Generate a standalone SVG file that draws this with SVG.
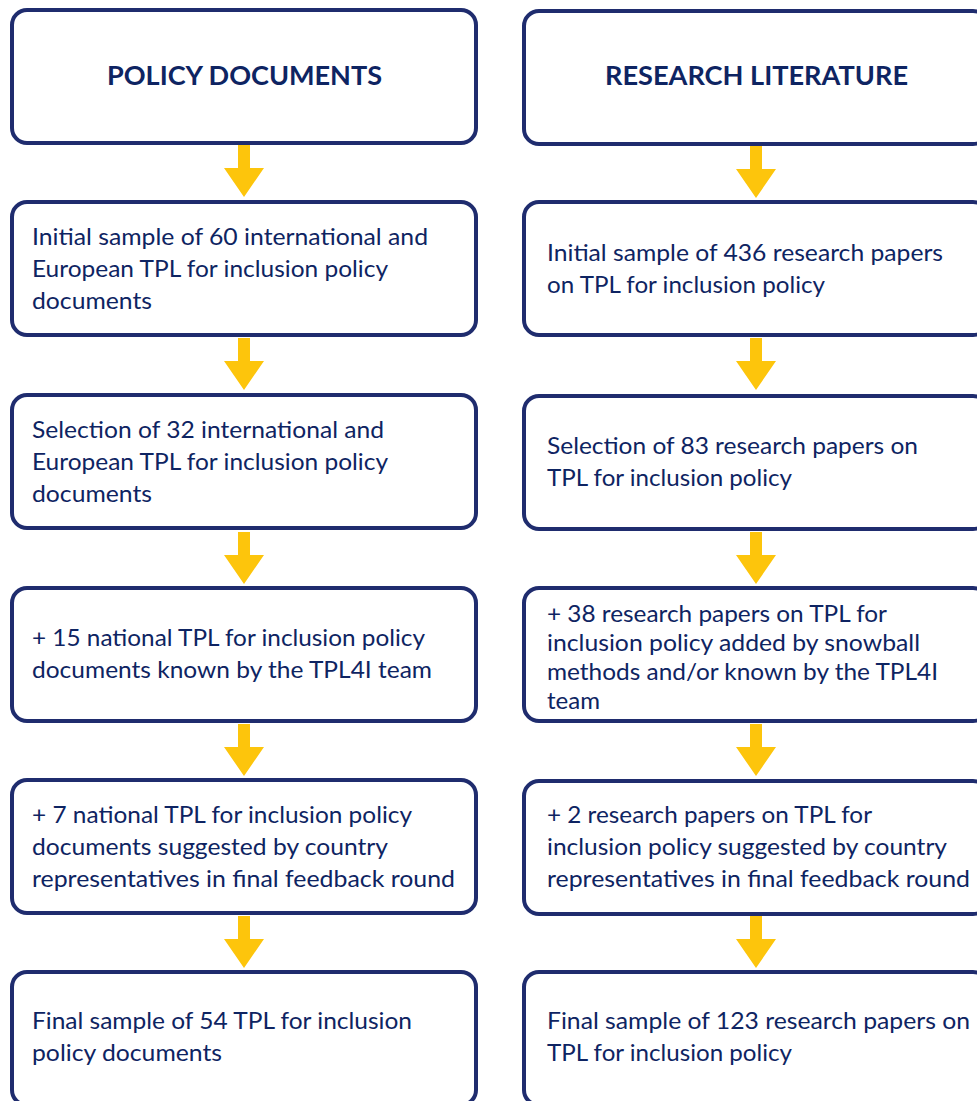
<svg xmlns="http://www.w3.org/2000/svg" xmlns:xlink="http://www.w3.org/1999/xlink" width="977" height="1101" viewBox="0 0 977 1101">
  <style>
    .box { fill: #ffffff; stroke: #1F2C6E; stroke-width: 4; }
    .t { font-family: Lato, "Open Sans", "Liberation Sans", sans-serif; font-size: 24px; fill: #0E2462; }
    .h { font-family: Lato, "Open Sans", "Liberation Sans", sans-serif; font-size: 26px; font-weight: bold; fill: #0E2462; }
    .arrow { fill: #FDC50C; }
  </style>
  <defs>
    <path id="arr" d="M -6 0 H 6 V 23 H 20 L 0 52 L -20 23 H -6 Z"/>
  </defs>
  <rect width="977" height="1101" fill="#ffffff"/>

  <g id="connectors">
    <use xlink:href="#arr" href="#arr" class="arrow" transform="translate(244,145)"/>
    <use xlink:href="#arr" href="#arr" class="arrow" transform="translate(244,338)"/>
    <use xlink:href="#arr" href="#arr" class="arrow" transform="translate(244,532)"/>
    <use xlink:href="#arr" href="#arr" class="arrow" transform="translate(244,724)"/>
    <use xlink:href="#arr" href="#arr" class="arrow" transform="translate(244,916)"/>
    <use xlink:href="#arr" href="#arr" class="arrow" transform="translate(756,146)"/>
    <use xlink:href="#arr" href="#arr" class="arrow" transform="translate(756,338)"/>
    <use xlink:href="#arr" href="#arr" class="arrow" transform="translate(756,532)"/>
    <use xlink:href="#arr" href="#arr" class="arrow" transform="translate(756,724)"/>
    <use xlink:href="#arr" href="#arr" class="arrow" transform="translate(756,916)"/>
  </g>

  <!-- Left column -->
  <g id="policy-documents">
    <rect class="box" x="12" y="10" width="464" height="133" rx="15"/>
    <text class="h" x="107" y="85" textLength="275" lengthAdjust="spacingAndGlyphs">POLICY DOCUMENTS</text>
  </g>
  <g id="policy-initial">
    <rect class="box" x="12" y="202" width="464" height="133" rx="15"/>
    <text class="t" x="32" y="245" textLength="396" lengthAdjust="spacingAndGlyphs">Initial sample of 60 international and</text>
    <text class="t" x="32" y="277" textLength="356" lengthAdjust="spacingAndGlyphs">European TPL for inclusion policy</text>
    <text class="t" x="32" y="309" textLength="120" lengthAdjust="spacingAndGlyphs">documents</text>
  </g>
  <g id="policy-selection">
    <rect class="box" x="12" y="395" width="464" height="133" rx="15"/>
    <text class="t" x="32" y="438" textLength="352" lengthAdjust="spacingAndGlyphs">Selection of 32 international and</text>
    <text class="t" x="32" y="470" textLength="356" lengthAdjust="spacingAndGlyphs">European TPL for inclusion policy</text>
    <text class="t" x="32" y="502" textLength="120" lengthAdjust="spacingAndGlyphs">documents</text>
  </g>
  <g id="policy-national">
    <rect class="box" x="12" y="588" width="464" height="133" rx="15"/>
    <text class="t" x="32" y="646" textLength="393" lengthAdjust="spacingAndGlyphs">+ 15 national TPL for inclusion policy</text>
    <text class="t" x="32" y="678" textLength="400" lengthAdjust="spacingAndGlyphs">documents known by the TPL4I team</text>
  </g>
  <g id="policy-suggested">
    <rect class="box" x="12" y="780" width="464" height="133" rx="15"/>
    <text class="t" x="32" y="823" textLength="380" lengthAdjust="spacingAndGlyphs">+ 7 national TPL for inclusion policy</text>
    <text class="t" x="32" y="855" textLength="356" lengthAdjust="spacingAndGlyphs">documents suggested by country</text>
    <text class="t" x="32" y="887" textLength="423" lengthAdjust="spacingAndGlyphs">representatives in final feedback round</text>
  </g>
  <g id="policy-final">
    <rect class="box" x="12" y="972" width="464" height="133" rx="15"/>
    <text class="t" x="32" y="1029" textLength="380" lengthAdjust="spacingAndGlyphs">Final sample of 54 TPL for inclusion</text>
    <text class="t" x="32" y="1061" textLength="190" lengthAdjust="spacingAndGlyphs">policy documents</text>
  </g>

  <!-- Right column -->
  <g id="research-literature">
    <rect class="box" x="524" y="11" width="464" height="133" rx="15"/>
    <text class="h" x="605" y="85" textLength="303" lengthAdjust="spacingAndGlyphs">RESEARCH LITERATURE</text>
  </g>
  <g id="research-initial">
    <rect class="box" x="524" y="202" width="464" height="133" rx="15"/>
    <text class="t" x="547" y="261" textLength="396" lengthAdjust="spacingAndGlyphs">Initial sample of 436 research papers</text>
    <text class="t" x="547" y="293" textLength="278" lengthAdjust="spacingAndGlyphs">on TPL for inclusion policy</text>
  </g>
  <g id="research-selection">
    <rect class="box" x="524" y="396" width="464" height="133" rx="15"/>
    <text class="t" x="547" y="454" textLength="371" lengthAdjust="spacingAndGlyphs">Selection of 83 research papers on</text>
    <text class="t" x="547" y="486" textLength="245" lengthAdjust="spacingAndGlyphs">TPL for inclusion policy</text>
  </g>
  <g id="research-snowball">
    <rect class="box" x="524" y="588" width="464" height="133" rx="15"/>
    <text class="t" x="547" y="622" textLength="340" lengthAdjust="spacingAndGlyphs">+ 38 research papers on TPL for</text>
    <text class="t" x="547" y="651" textLength="373" lengthAdjust="spacingAndGlyphs">inclusion policy added by snowball</text>
    <text class="t" x="547" y="680" textLength="391" lengthAdjust="spacingAndGlyphs">methods and/or known by the TPL4I</text>
    <text class="t" x="547" y="709" textLength="53" lengthAdjust="spacingAndGlyphs">team</text>
  </g>
  <g id="research-suggested">
    <rect class="box" x="524" y="781" width="464" height="133" rx="15"/>
    <text class="t" x="547" y="823" textLength="325" lengthAdjust="spacingAndGlyphs">+ 2 research papers on TPL for</text>
    <text class="t" x="547" y="855" textLength="400" lengthAdjust="spacingAndGlyphs">inclusion policy suggested by country</text>
    <text class="t" x="547" y="887" textLength="423" lengthAdjust="spacingAndGlyphs">representatives in final feedback round</text>
  </g>
  <g id="research-final">
    <rect class="box" x="524" y="972" width="464" height="133" rx="15"/>
    <text class="t" x="547" y="1029" textLength="423" lengthAdjust="spacingAndGlyphs">Final sample of 123 research papers on</text>
    <text class="t" x="547" y="1061" textLength="245" lengthAdjust="spacingAndGlyphs">TPL for inclusion policy</text>
  </g>
</svg>
